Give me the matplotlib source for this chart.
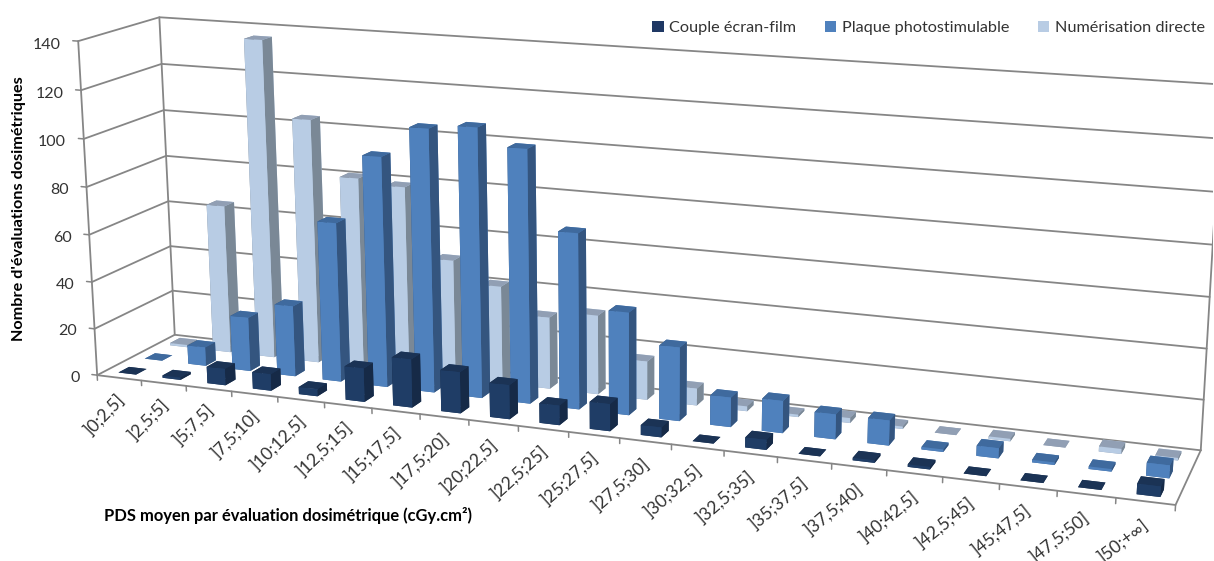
import numpy as np
import matplotlib
matplotlib.use("Agg")
import matplotlib.pyplot as plt
from matplotlib.patches import Patch

plt.rcParams['font.family'] = ['Lato', 'DejaVu Sans']

categories = [']0;2,5]', ']2,5;5]', ']5;7,5]', ']7,5;10]', ']10;12,5]', ']12,5;15]', ']15;17,5]',
              ']17,5;20]', ']20;22,5]', ']22,5;25]', ']25;27,5]', ']27,5;30]', ']30;32,5]', ']32,5;35]',
              ']35;37,5]', ']37,5;40]', ']40;42,5]', ']42,5;45]', ']45;47,5]', ']47,5;50]', ']50;+∞]']
couple = [0, 1, 7, 7, 3, 14, 20, 17, 14, 8, 11, 4, 0, 4, 0, 1, 1, 0, 0, 0, 4]
plaque = [0, 8, 23, 30, 67, 96, 109, 111, 104, 72, 42, 30, 12, 13, 10, 10, 1, 4, 1, 1, 5]
numerisation = [1, 64, 136, 104, 81, 79, 50, 41, 30, 33, 16, 7, 2, 1, 2, 1, 0, 1, 0, 2, 1]
series_names = ['Couple écran-film', 'Plaque photostimulable', 'Numérisation directe']
z_ticks = [0, 20, 40, 60, 80, 100, 120, 140]

W, H = 1214, 561
GRID = '#868686'
TEXT = '#333333'
# front, side, top colours of the bars
FRONT = ['#1F3D66', '#4F81BD', '#B8CCE4']
SIDE = ['#162A47', '#34557F', '#7A8896']
TOP = ['#1B3355', '#3F6A9E', '#919FB4']

# camera values fitted against the corners of the box in the picture
ELEV, AZIM, ROLL, FOCAL = 14.3821, -69.3512, 0.1262, 0.3817
BOX = np.array([1.7325, 0.2452, 0.5492])
SHIFT_X, SHIFT_Y = -1.0655, -301.8746

fig = plt.figure(figsize=(W / 100, H / 100), dpi=100, facecolor='white')
ax = fig.add_axes([SHIFT_X / W, SHIFT_Y / H, 1, W / H], projection='3d')
ax.computed_zorder = False
ax.view_init(ELEV, AZIM, ROLL)
ax.set_proj_type('persp', focal_length=FOCAL)
ax.set_box_aspect(BOX, zoom=np.linalg.norm(BOX) / (1.8294640721620434 * 25 / 24))
ax.set_axis_off()

n = len(categories)
top_z = z_ticks[-1]


def line(xs, ys, zs, lw=1.3):
    ax.plot(xs, ys, zs, color=GRID, lw=lw, zorder=1, solid_capstyle='round')


# walls and floor
for z in z_ticks:
    line([0, 0, n], [0, 1, 1], [z, z, z])
    line([-0.12, 0], [0, 0], [z, z], lw=1.1)
line([0, 0], [0, 0], [0, top_z])
line([0, 0], [1, 1], [0, top_z])
line([n, n], [1, 1], [0, top_z])
line([0, n, n], [0, 0, 1], [0, 0, 0])
for i in range(n + 1):
    line([i, i], [0, 0], [0, -2.2], lw=1.1)

# bars, far ones first
order = 2
for row, values in reversed(list(enumerate([couple, plaque, numerisation]))):
    for i, v in enumerate(values):
        # bar3d face order: -z, +z, -y, +y, -x, +x
        colors = [TOP[row], TOP[row], FRONT[row], FRONT[row], SIDE[row], SIDE[row]]
        ax.bar3d(i + 0.3, row / 3 + 0.1, 0, 0.4, 0.4 / 3, v, color=colors, shade=False,
                 zorder=order, linewidth=0)
        order += 1

ax.set_xlim(0, n)
ax.set_ylim(0, 1)
ax.set_zlim(0, top_z)

for z in z_ticks:
    ax.text(-0.4, 0, z - 2, str(z), ha='right', va='center', fontsize=11.5, color=TEXT)
for i, label in enumerate(categories):
    # Text3D takes its angle from zdir, this direction comes out at about 45 degrees on screen
    ax.text(i + 0.53, 0, -8, label, zdir=(1, 0, 21), ha='right', va='center',
            rotation_mode='anchor', fontsize=12.6, color=TEXT)

fig.text(19 / W, 1 - 209 / H, "Nombre d'évaluations dosimétriques", rotation=90, ha='center', va='center',
         fontsize=11.7, fontweight='bold', color='black')
fig.text(104 / W, 1 - 515 / H, 'PDS moyen par évaluation dosimétrique (cGy.cm²)', ha='left', va='center',
         fontsize=11.9, fontweight='bold', color='black')

handles = [Patch(facecolor=c, edgecolor='none', label=name) for c, name in zip(['#1F3864', '#4F81BD', '#B8CCE4'], series_names)]
fig.legend(handles=handles, loc='center right', bbox_to_anchor=(1205 / W, 1 - 28 / H), ncol=3, frameon=False,
           fontsize=11.7, handlelength=0.7, handleheight=0.7, handletextpad=0.35, columnspacing=1.75,
           labelcolor=TEXT, borderpad=0, borderaxespad=0)

fig.savefig('out.png', dpi=100)
